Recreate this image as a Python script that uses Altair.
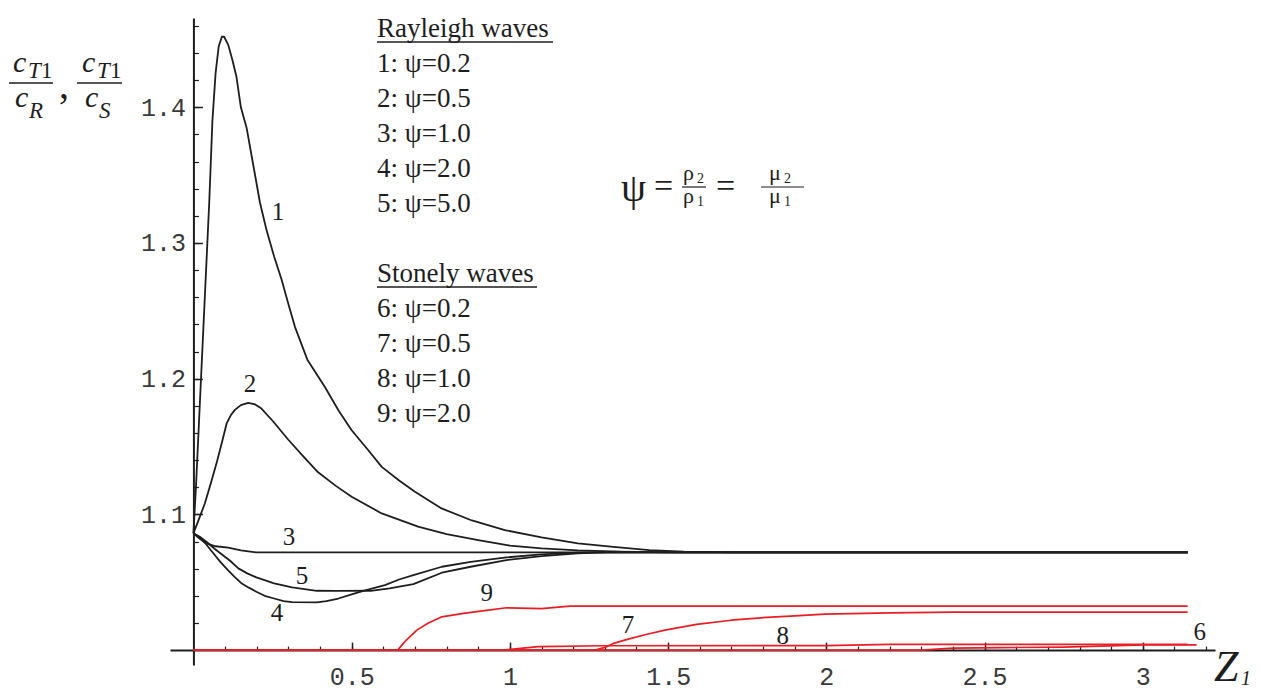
import altair as alt
import pandas as pd

# ---------------- data ----------------
# Rayleigh waves (black)
c1_x = [0, 0.008, 0.02, 0.03, 0.04, 0.05, 0.06, 0.07, 0.08, 0.09, 0.097, 0.11, 0.123, 0.136, 0.15, 0.168,
        0.194, 0.21, 0.231, 0.255, 0.279, 0.30, 0.321, 0.36, 0.415, 0.46, 0.50, 0.55, 0.595, 0.65, 0.70,
        0.784, 0.88, 0.984, 1.10, 1.215, 1.327, 1.44, 1.55, 1.70, 3.1416]
c1_y = [1.086, 1.12, 1.18, 1.23, 1.28, 1.33, 1.39, 1.425, 1.445, 1.452, 1.452, 1.446, 1.435, 1.4225, 1.40,
        1.385, 1.351, 1.33, 1.3095, 1.29, 1.2727, 1.255, 1.238, 1.214, 1.194, 1.176, 1.162, 1.148, 1.135,
        1.125, 1.1167, 1.1044, 1.0955, 1.0884, 1.083, 1.0786, 1.076, 1.0737, 1.0725, 1.072, 1.072]

c2_x = [0, 0.015, 0.036, 0.055, 0.073, 0.09, 0.105, 0.118, 0.131, 0.15, 0.173, 0.195, 0.215, 0.25, 0.30,
        0.35, 0.394, 0.45, 0.50, 0.595, 0.71, 0.80, 0.90, 1.0, 1.10, 1.215, 1.35, 1.5, 3.1416]
c2_y = [1.086, 1.095, 1.108, 1.123, 1.1376, 1.153, 1.167, 1.173, 1.177, 1.1805, 1.1822, 1.181, 1.178,
        1.169, 1.155, 1.142, 1.131, 1.121, 1.113, 1.1007, 1.091, 1.0855, 1.081, 1.077, 1.075, 1.0734,
        1.0725, 1.072, 1.072]

c3_x = [0, 0.02, 0.041, 0.07, 0.11, 0.15, 0.199, 3.1416]
c3_y = [1.086, 1.082, 1.0786, 1.0765, 1.0755, 1.0735, 1.072, 1.072]

c4_x = [0, 0.02, 0.04, 0.0635, 0.085, 0.109, 0.13, 0.153, 0.175, 0.199, 0.225, 0.255, 0.285, 0.312, 0.39,
        0.42, 0.458, 0.50, 0.537, 0.605, 0.65, 0.695, 0.785, 0.876, 0.989, 1.10, 1.215, 1.35, 3.1416]
c4_y = [1.086, 1.083, 1.078, 1.0712, 1.065, 1.059, 1.054, 1.049, 1.046, 1.043, 1.040, 1.038, 1.036, 1.0354,
        1.0351, 1.036, 1.038, 1.041, 1.0437, 1.0479, 1.052, 1.0553, 1.0614, 1.065, 1.0683, 1.0705, 1.0718,
        1.072, 1.072]

c5_x = [0, 0.02, 0.041, 0.065, 0.086, 0.115, 0.142, 0.17, 0.199, 0.255, 0.312, 0.39, 0.45, 0.56, 0.62,
        0.695, 0.785, 0.876, 0.989, 1.10, 1.215, 1.30, 3.1416]
c5_y = [1.086, 1.0835, 1.0798, 1.075, 1.0712, 1.066, 1.0602, 1.0565, 1.0536, 1.0491, 1.0462, 1.0437,
        1.0436, 1.0437, 1.0455, 1.0486, 1.057, 1.0614, 1.0663, 1.0693, 1.0712, 1.072, 1.072]

# Stonely waves (red)
c6_x = [0, 2.30, 2.40, 2.55, 2.75, 2.95, 3.0, 3.17]
c6_y = [1.0, 1.0, 1.0015, 1.0018, 1.0022, 1.0035, 1.0038, 1.0038]

c7_x = [0, 1.27, 1.30, 1.327, 1.374, 1.43, 1.49, 1.59, 1.70, 1.793, 1.90, 1.995, 2.2, 2.40, 3.1416]
c7_y = [1.0, 1.0, 1.002, 1.0049, 1.0081, 1.0115, 1.0147, 1.019, 1.022, 1.0238, 1.0252, 1.0265, 1.0274,
        1.028, 1.028]

c8_x = [0, 0.98, 1.09, 1.30, 2.0, 2.2, 3.1416]
c8_y = [1.0, 1.0, 1.0025, 1.0032, 1.0033, 1.0042, 1.0042]

c9_x = [0, 0.646, 0.66, 0.673, 0.706, 0.741, 0.785, 0.853, 0.932, 0.989, 1.10, 1.19, 3.1416]
c9_y = [1.0, 1.0, 1.004, 1.0074, 1.0147, 1.0197, 1.0245, 1.027, 1.0295, 1.0312, 1.0305, 1.0324, 1.0324]

# curve number labels
lab_text = ["1", "2", "3", "4", "5", "6", "7", "8", "9"]
lab_x = [0.267, 0.179, 0.302, 0.264, 0.343, 3.18, 1.373, 1.862, 0.927]
lab_y = [1.3228, 1.196, 1.0833, 1.0273, 1.0545, 1.0133, 1.0184, 1.0103, 1.042]

# axis ticks
x_major = [0.5, 1, 1.5, 2, 2.5, 3]
x_minor = [round(0.1 * i, 1) for i in range(1, 33)]
y_major = [1.1, 1.2, 1.3, 1.4]
y_minor = [round(1.0 + 0.02 * i, 2) for i in range(1, 24)]

legend_rayleigh = ["1: ψ=0.2", "2: ψ=0.5", "3: ψ=1.0", "4: ψ=2.0", "5: ψ=5.0"]
legend_stonely = ["6: ψ=0.2", "7: ψ=0.5", "8: ψ=1.0", "9: ψ=2.0"]

# ---------------- layout ----------------
X_DOMAIN = [-0.074, 3.228]
Y_DOMAIN = [0.989, 1.4658]
W, H = 1045, 647
x0_off = (0 - X_DOMAIN[0]) / (X_DOMAIN[1] - X_DOMAIN[0]) * W      # px from left edge to x=0
y1_off = (1.0 - Y_DOMAIN[0]) / (Y_DOMAIN[1] - Y_DOMAIN[0]) * H    # px from bottom edge to y=1

xs = alt.Scale(domain=X_DOMAIN, nice=False, zero=False)
ys = alt.Scale(domain=Y_DOMAIN, nice=False, zero=False)

SERIF = "Liberation Serif"
MONO = "Liberation Mono"
INK = "#1e1e1e"
RED = "#ec1c24"


def frame(curves):
    rows = []
    for name, xv, yv in curves:
        for i, (a, b) in enumerate(zip(xv, yv)):
            rows.append({"curve": name, "i": i, "x": a, "y": b})
    return pd.DataFrame(rows)


black_df = frame([("1", c1_x, c1_y), ("2", c2_x, c2_y), ("3", c3_x, c3_y), ("4", c4_x, c4_y), ("5", c5_x, c5_y)])
red_df = frame([("6", c6_x, c6_y), ("7", c7_x, c7_y), ("8", c8_x, c8_y), ("9", c9_x, c9_y)])
lab_df = pd.DataFrame({"t": lab_text, "x": lab_x, "y": lab_y})

black = alt.Chart(black_df).mark_line(color=INK, strokeWidth=1.8, strokeJoin="round").encode(
    x=alt.X("x:Q", scale=xs, axis=alt.Axis(
        orient="bottom", offset=-y1_off, values=x_major, format="~g", ticks=False, grid=False,
        domain=True, domainColor=INK, domainWidth=2, title=None,
        labelFont=MONO, labelFontSize=25, labelColor="#3a3a3a", labelPadding=14)),
    y=alt.Y("y:Q", scale=ys, axis=alt.Axis(
        orient="left", offset=-x0_off, values=y_major, format=".1f", ticks=False, grid=False,
        domain=True, domainColor=INK, domainWidth=2, title=None,
        labelFont=MONO, labelFontSize=25, labelColor="#3a3a3a", labelPadding=8)),
    detail="curve:N", order="i:Q")

red = alt.Chart(red_df).mark_line(color=RED, strokeWidth=1.7, strokeJoin="round").encode(
    x=alt.X("x:Q", scale=xs, axis=alt.Axis(
        orient="top", offset=-(H - y1_off), values=x_major, labels=False, domain=False, grid=False,
        ticks=True, tickSize=8, tickWidth=1.5, tickColor=INK, title=None)),
    y=alt.Y("y:Q", scale=ys, axis=alt.Axis(
        orient="right", offset=-(W - x0_off), values=y_major, labels=False, domain=False, grid=False,
        ticks=True, tickSize=9, tickWidth=1.5, tickColor=INK, title=None)),
    detail="curve:N", order="i:Q")

labels = alt.Chart(lab_df).mark_text(font=SERIF, fontSize=25, color=INK, align="center", baseline="middle").encode(
    x=alt.X("x:Q", scale=xs, axis=alt.Axis(
        orient="top", offset=-(H - y1_off), values=x_minor, labels=False, domain=False, grid=False,
        ticks=True, tickSize=4, tickWidth=1.2, tickColor=INK, title=None)),
    y=alt.Y("y:Q", scale=ys, axis=alt.Axis(
        orient="right", offset=-(W - x0_off), values=y_minor, labels=False, domain=False, grid=False,
        ticks=True, tickSize=5, tickWidth=1.2, tickColor=INK, title=None)),
    text="t:N")

one = alt.Data(values=[{"k": 1}])


def txt(s, px, py, size, style="normal", align="left", font=SERIF):
    return alt.Chart(one).mark_text(text=s, font=font, fontSize=size, fontStyle=style, color=INK,
                                    align=align, baseline="alphabetic").encode(
        x=alt.value(px), y=alt.value(py))


def bar(a, b, py, w=1.4):
    return alt.Chart(one).mark_rule(color=INK, strokeWidth=w).encode(
        x=alt.value(a), x2=alt.value(b), y=alt.value(py))


annots = []
# legend block (plot coordinates: page minus (170, 18))
annots.append(txt("Rayleigh waves", 207, 19, 27))
annots.append(bar(207, 383, 24, 1.3))
for k, s in enumerate(legend_rayleigh):
    annots.append(txt(s, 207, 54 + 35 * k, 27))
annots.append(txt("Stonely waves", 207, 264, 27))
annots.append(bar(207, 367, 269, 1.3))
for k, s in enumerate(legend_stonely):
    annots.append(txt(s, 207, 299 + 35 * k, 27))

# formula  psi = rho2/rho1 = mu2/mu1
annots.append(txt("ψ", 451, 183, 40))
annots.append(txt("=", 484, 179, 34))
annots.append(txt("ρ", 513, 162, 22))
annots.append(txt("2", 527, 165, 14))
annots.append(bar(512, 536, 169, 1.2))
annots.append(txt("ρ", 513, 185, 22))
annots.append(txt("1", 527, 188, 14))
annots.append(txt("=", 546, 179, 34))
annots.append(txt("μ", 599, 162, 22))
annots.append(txt("2", 614, 165, 14))
annots.append(bar(591, 634, 169, 1.2))
annots.append(txt("μ", 599, 185, 22))
annots.append(txt("1", 614, 188, 14))

# y-axis title: c_T1 / c_R , c_T1 / c_S
annots.append(txt("c", -157, 54, 30, "italic"))
annots.append(txt("T", -142, 60, 23, "italic"))
annots.append(txt("1", -129, 60, 23))
annots.append(bar(-161, -117, 65, 1.5))
annots.append(txt("c", -155, 89, 30, "italic"))
annots.append(txt("R", -141, 100, 23, "italic"))
annots.append(txt(",", -111, 80, 40))
annots.append(txt("c", -88, 54, 30, "italic"))
annots.append(txt("T", -73, 60, 23, "italic"))
annots.append(txt("1", -60, 60, 23))
annots.append(bar(-93, -48, 65, 1.5))
annots.append(txt("c", -85, 89, 30, "italic"))
annots.append(txt("S", -71, 100, 23, "italic"))

# x-axis title Z_1
annots.append(txt("Z", 1044, 663, 44, "italic"))
annots.append(txt("1", 1071, 667, 20, "italic"))

chart = alt.layer(black, red, labels, *annots).resolve_axis(
    x="independent", y="independent"
).properties(
    width=W, height=H,
    autosize=alt.AutoSizeParams(type="none"),
    padding={"left": 162, "top": 10, "right": 38, "bottom": 30},
    background="white",
).configure_view(stroke=None)

chart.save("out.html", embed_options={"renderer": "svg", "actions": False})
